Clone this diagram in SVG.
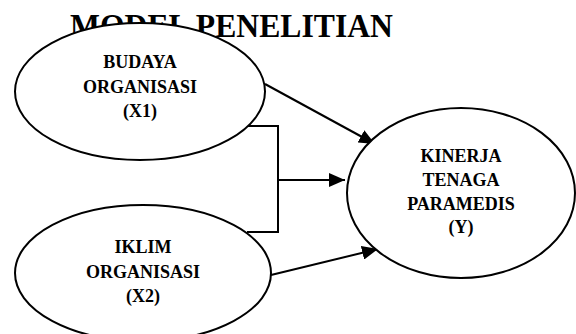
<svg xmlns="http://www.w3.org/2000/svg" width="576" height="334" viewBox="0 0 576 334">
<style>
.title{font-family:"Liberation Serif","Times New Roman",serif;font-weight:bold;font-size:33px;fill:#000}
.node ellipse{fill:#fff;stroke:#000;stroke-width:2}
.lbl{font-family:"Liberation Serif","Times New Roman",serif;font-weight:bold;font-size:18px;fill:#000;text-anchor:middle}
.conn{fill:none;stroke:#000;stroke-width:2}
</style>
<defs>
<marker id="arr" markerUnits="userSpaceOnUse" markerWidth="18" markerHeight="14" refX="16" refY="7" orient="auto">
<path d="M0,0 L16,7 L0,14 Z" fill="#000"/>
</marker>
</defs>
<rect width="576" height="334" fill="#fff"/>
<text class="title" x="70" y="37" textLength="323" lengthAdjust="spacingAndGlyphs">MODEL PENELITIAN</text>
<g id="connectors">
<line class="conn" x1="265" y1="84" x2="375" y2="144" marker-end="url(#arr)"/>
<polyline class="conn" points="247,126 278,126 278,232 247,232"/>
<line class="conn" x1="278" y1="180" x2="345" y2="180" marker-end="url(#arr)"/>
<line class="conn" x1="271" y1="275" x2="378" y2="249" marker-end="url(#arr)"/>
</g>
<g id="budaya" class="node">
<ellipse cx="140" cy="91.5" rx="125" ry="68.5"/>
<text class="lbl" x="140" y="68">BUDAYA</text>
<text class="lbl" x="140" y="93">ORGANISASI</text>
<text class="lbl" x="140" y="117">(X1)</text>
</g>
<g id="iklim" class="node">
<ellipse cx="143" cy="273" rx="128" ry="68"/>
<text class="lbl" x="143" y="253">IKLIM</text>
<text class="lbl" x="143" y="278">ORGANISASI</text>
<text class="lbl" x="143" y="302">(X2)</text>
</g>
<g id="kinerja" class="node">
<ellipse cx="461" cy="193" rx="114" ry="85"/>
<text class="lbl" x="461" y="162">KINERJA</text>
<text class="lbl" x="461" y="186">TENAGA</text>
<text class="lbl" x="461" y="210">PARAMEDIS</text>
<text class="lbl" x="461" y="233">(Y)</text>
</g>
</svg>
